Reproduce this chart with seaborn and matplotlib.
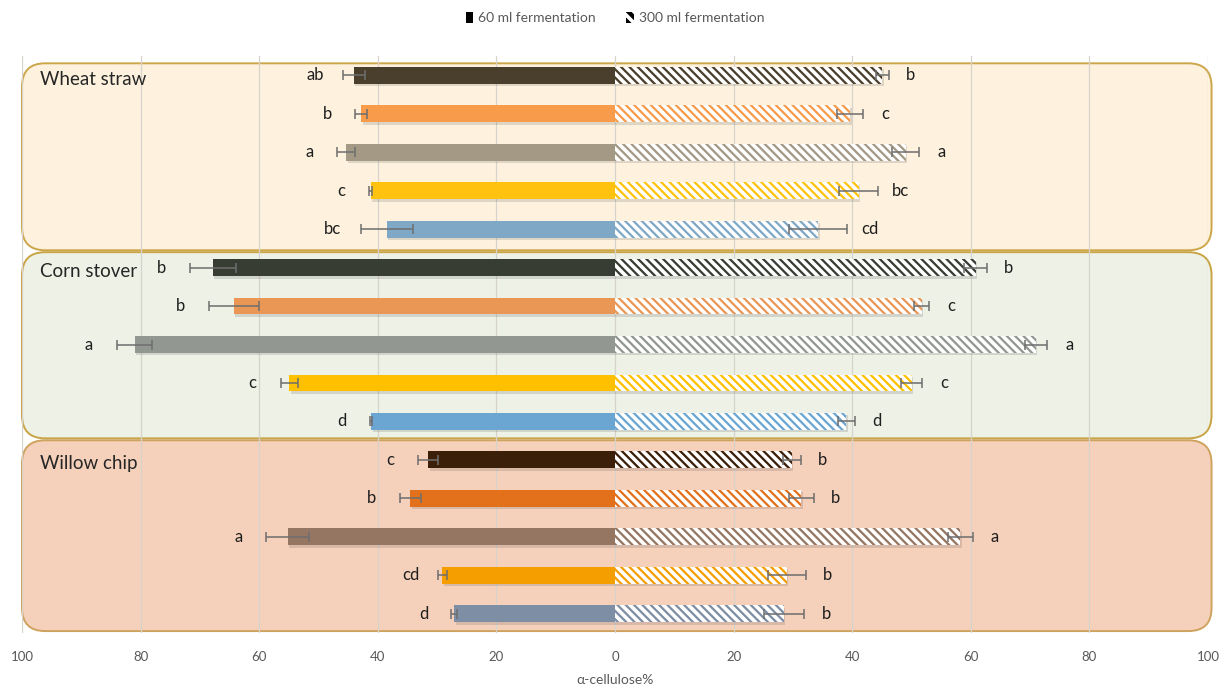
import matplotlib
matplotlib.use("Agg")
import matplotlib.pyplot as plt
import seaborn as sns
import numpy as np
import pandas as pd
from matplotlib.patches import FancyBboxPatch, Patch
from matplotlib import patheffects as pe
from matplotlib.colors import to_rgba
from matplotlib.ticker import FuncFormatter

# ---------------- data ----------------
groups = ["Wheat straw", "Corn stover", "Willow chip"]

wheat_60 = [44.0, 42.8, 45.3, 41.2, 38.5]
wheat_60_err = [1.8, 1.0, 1.5, 0.2, 4.4]
wheat_300 = [45.1, 39.7, 49.0, 41.1, 34.3]
wheat_300_err = [1.1, 2.2, 2.3, 3.3, 4.9]

corn_60 = [67.8, 64.3, 81.0, 54.9, 41.1]
corn_60_err = [3.9, 4.2, 3.0, 1.5, 0.2]
corn_300 = [60.8, 51.7, 71.0, 50.0, 39.0]
corn_300_err = [1.9, 1.3, 1.9, 1.8, 1.4]

willow_60 = [31.5, 34.5, 55.2, 29.1, 27.1]
willow_60_err = [1.7, 1.8, 3.6, 0.7, 0.5]
willow_300 = [29.8, 31.4, 58.2, 29.0, 28.5]
willow_300_err = [1.5, 2.1, 2.1, 3.2, 3.4]

letters_60 = ["ab", "b", "a", "c", "bc",
              "b", "b", "a", "c", "d",
              "c", "b", "a", "cd", "d"]
letters_300 = ["b", "c", "a", "bc", "cd",
               "b", "c", "a", "c", "d",
               "b", "b", "a", "b", "b"]

wheat_colors = ["#4A3F2D", "#F89B4B", "#A39985", "#FFC20E", "#7FA8C6"]
corn_colors = ["#373D33", "#EA9756", "#929891", "#FFC000", "#6BA5D2"]
willow_colors = ["#3B1F08", "#E3711B", "#957662", "#F59E00", "#7D8EA5"]

panel_fill = ["#FEF2DE", "#EDF1E6", "#F5D0BA"]
panel_edge = ["#CDA64A", "#C9A445", "#CFA35E"]

legend_labels = ["60 ml fermentation", "300 ml fermentation"]
tick_values = list(range(-100, 101, 20))
x_label = "α-cellulose%"

# ---------------- assemble ----------------
rows = [f"{g} {i + 1}" for g in groups for i in range(5)]
v60 = np.array(wheat_60 + corn_60 + willow_60)
e60 = np.array(wheat_60_err + corn_60_err + willow_60_err)
v300 = np.array(wheat_300 + corn_300 + willow_300)
e300 = np.array(wheat_300_err + corn_300_err + willow_300_err)
colors = wheat_colors + corn_colors + willow_colors

df = pd.DataFrame({"row": rows, "v60": -v60, "v300": v300})

sns.set_theme(style="white")
plt.rcParams['font.family'] = ['Lato', 'DejaVu Sans']
plt.rcParams['hatch.linewidth'] = 2.6
plt.rcParams['hatch.color'] = 'white'

W, H = 1230, 689
fig = plt.figure(figsize=(W / 100, H / 100), dpi=100)
ax = fig.add_axes([22 / W, 56 / H, 1186 / W, 577 / H])


class BarShadow(pe.AbstractPathEffect):
    def __init__(self, offset=(1.0, -1.8), color="#555555", alpha=0.18):
        super().__init__(offset)
        self.color = color
        self.alpha = alpha

    def draw_path(self, renderer, gc, tpath, affine, rgbFace):
        gc0 = renderer.new_gc()
        gc0.copy_properties(gc)
        gc0.set_hatch(None)
        gc0.set_linewidth(0)
        gc0.set_alpha(self.alpha)
        renderer.draw_path(gc0, tpath, affine + self._offset_transform(renderer),
                           to_rgba(self.color))
        gc0.restore()


sns.barplot(data=df, x="v60", y="row", hue="row", palette=colors, width=0.44,
            saturation=1, legend=False, orient="h", linewidth=0, ax=ax, zorder=3)
n_first = len(ax.patches)
sns.barplot(data=df, x="v300", y="row", hue="row", palette=colors, width=0.44,
            saturation=1, legend=False, orient="h", linewidth=0, ax=ax, zorder=3)
for k, p in enumerate(ax.patches):
    p.set_path_effects([BarShadow(), pe.Normal()])
    if k >= n_first:
        p.set_hatch("\\\\\\\\")
        p.set_edgecolor("white")
        p.set_linewidth(0)

ypos = np.arange(len(rows))
ax.errorbar(-v60, ypos, xerr=e60, fmt="none", ecolor="#6E6E6E", elinewidth=1.1,
            capsize=3.3, capthick=1.1, zorder=4)
ax.errorbar(v300, ypos, xerr=e300, fmt="none", ecolor="#6E6E6E", elinewidth=1.1,
            capsize=3.3, capthick=1.1, zorder=4)

for i in range(len(rows)):
    ax.text(-(v60[i] + e60[i]) - 4.7, ypos[i], letters_60[i], ha="center",
            va="center", fontsize=12, color="#1E1E1E", zorder=5)
    ax.text(v300[i] + e300[i] + 3.7, ypos[i], letters_300[i], ha="center",
            va="center", fontsize=12, color="#1E1E1E", zorder=5)

ax.set_xlim(-100, 100)
ax.set_ylim(14.5, -0.5)

# rounded panels behind each group
px_w = W * ax.get_position().width
px_h = H * ax.get_position().height
m_aspect = (15 / px_h) / (200 / px_w)
r = 3.9
tops = [-0.31, 4.60, 9.49]
bottoms = [4.55, 9.44, 14.45]
for g in range(3):
    box = FancyBboxPatch((-100, tops[g]), 200.6, bottoms[g] - tops[g],
                         boxstyle=f"round,pad=0,rounding_size={r}",
                         mutation_aspect=m_aspect, facecolor=panel_fill[g],
                         edgecolor=panel_edge[g], linewidth=1.4, zorder=0.2,
                         clip_on=False)
    ax.add_patch(box)
    ax.text(-96.9, 5 * g + 0.1, groups[g], fontsize=13.5, ha="left", va="center",
            color="#262626", zorder=5)

ax.set_xticks(tick_values)
ax.xaxis.set_major_formatter(FuncFormatter(lambda v, p: f"{abs(int(round(v)))}"))
ax.set_axisbelow(True)
ax.grid(axis="x", color="#D6D3CC", linewidth=0.9)
ax.grid(axis="y", visible=False)
ax.set_yticks([])
ax.set_ylabel("")
ax.tick_params(axis="x", length=0, pad=13, labelsize=9.5, labelcolor="#595959")
ax.set_xlabel(x_label, fontsize=10, color="#595959", labelpad=8)
for s in ax.spines.values():
    s.set_visible(False)
ax.patch.set_alpha(0)

handles = [Patch(facecolor="black", edgecolor="none"),
           Patch(facecolor="black", edgecolor="white", hatch="\\\\\\", linewidth=0)]
fig.legend(handles=handles, labels=legend_labels, loc="center",
           bbox_to_anchor=(0.5, 1 - 18 / H), ncol=2, frameon=False, fontsize=10,
           handlelength=0.55, handleheight=0.9, handletextpad=0.35,
           columnspacing=2.2, labelcolor="#595959")

fig.savefig("out.png", dpi=100)
